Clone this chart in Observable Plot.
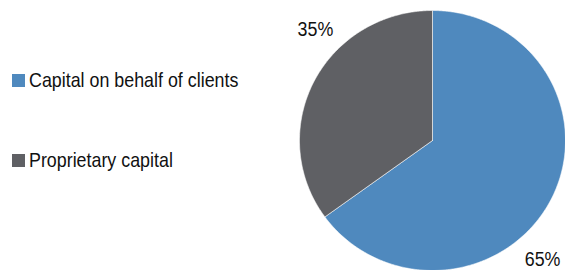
<!DOCTYPE html>
<html>
<head>
<meta charset="utf-8">
<script src="https://cdn.jsdelivr.net/npm/d3@7"></script>
<script src="https://cdn.jsdelivr.net/npm/@observablehq/plot@0.6"></script>
<style>
  html, body { margin: 0; padding: 0; background: #fff; }
  #wrap { position: relative; width: 565px; height: 270px; overflow: hidden;
          font-family: "Liberation Sans", Arial, sans-serif; }
  #wrap svg { position: absolute; left: 0; top: 0; }
  .leg { position: absolute; left: 12px; display: flex; align-items: center; font-size: 21px; color: #111; white-space: nowrap; }
  .sw { width: 13px; height: 13px; margin-right: 4px; flex: none; }
  .leg span { display: inline-block; transform: scaleX(0.85); transform-origin: left center; }
</style>
</head>
<body>
<div id="wrap"></div>
<script>
const categories = ["Capital on behalf of clients", "Proprietary capital"];
const shares = [65, 35];
const colors = ["#4F89BE", "#5F6064"];
const labelTexts = ["65%", "35%"];

const arcs = d3.pie().sort(null)(shares);
const pts = [];
arcs.forEach((a, i) => {
  const cat = categories[i];
  pts.push({cat, x: 0, y: 0});
  const n = Math.max(2, Math.ceil((a.endAngle - a.startAngle) / (Math.PI / 360)));
  for (let k = 0; k <= n; k++) {
    const t = a.startAngle + (a.endAngle - a.startAngle) * k / n;
    pts.push({cat, x: Math.sin(t), y: Math.cos(t)});
  }
  pts.push({cat, x: 0, y: 0});
});

// label placement: rotate from the slice mid-angle, just outside the rim
const labelShiftDeg = [20.7, 17.3];
const labelRadius = 1.23;
const labels = arcs.map((a, i) => {
  const m = (a.startAngle + a.endAngle) / 2 + labelShiftDeg[i] * Math.PI / 180;
  return {text: labelTexts[i], x: labelRadius * Math.sin(m), y: labelRadius * Math.cos(m)};
});

const chart = Plot.plot({
  width: 565,
  height: 270,
  margin: 0,
  style: {background: "transparent", fontFamily: '"Liberation Sans", Arial, sans-serif'},
  x: {domain: [-1, 1], range: [299, 565], axis: null},
  y: {domain: [-1, 1], range: [270, 10], axis: null},
  color: {domain: categories, range: colors},
  marks: [
    Plot.line(pts, {x: "x", y: "y", z: "cat", fill: "cat", stroke: "#ffffff", strokeWidth: 0.7, strokeOpacity: 0.8}),
    Plot.text(labels, {x: "x", y: "y", text: "text", fontSize: 21, fill: "#111",
      fontFamily: '"Liberation Sans", Arial, sans-serif'})
  ]
});

const wrap = document.getElementById("wrap");
wrap.appendChild(chart);

// condense the label glyphs horizontally (narrow face in the reference)
d3.select(chart).selectAll("text").each(function () {
  const tr = this.getAttribute("transform");
  if (tr) {
    this.setAttribute("transform", tr + " scale(0.85,1)");
  } else {
    const cx = +this.getAttribute("x") || 0;
    this.setAttribute("transform", `translate(${cx},0) scale(0.85,1) translate(${-cx},0)`);
  }
});

const legTops = [68, 148];
categories.forEach((c, i) => {
  const d = document.createElement("div");
  d.className = "leg";
  d.style.top = legTops[i] + "px";
  const sw = document.createElement("div");
  sw.className = "sw";
  sw.style.background = colors[i];
  const tx = document.createElement("span");
  tx.textContent = c;
  d.appendChild(sw);
  d.appendChild(tx);
  wrap.appendChild(d);
});
</script>
</body>
</html>
